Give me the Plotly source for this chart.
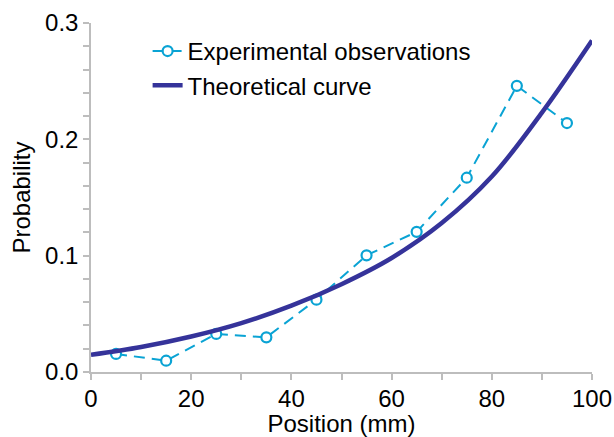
import plotly.graph_objects as go

# Experimental observations
exp_x = [5, 15, 25, 35, 45, 55, 65, 75, 85, 95]
exp_y = [0.0155, 0.0097, 0.0327, 0.0298, 0.0622, 0.1003, 0.1205, 0.167, 0.246, 0.214]

# Theoretical curve (every 10 mm)
theo_x = [0, 10, 20, 30, 40, 50, 60, 70, 80, 90, 100]
theo_y = [0.0148, 0.0215, 0.0305, 0.042, 0.057, 0.0755, 0.098, 0.128, 0.168, 0.223, 0.285]

x_ticks = [0, 20, 40, 60, 80, 100]
y_ticks = [0.0, 0.1, 0.2, 0.3]

EXP_COLOR = "#0AA3D4"
THEO_COLOR = "#35339A"
AXIS_COLOR = "#BDBDBD"
FONT = "Arial, Liberation Sans, Helvetica, sans-serif"
FS = 24

fig = go.Figure()
fig.add_trace(go.Scatter(
    x=exp_x, y=exp_y, mode="lines+markers", name="Experimental observations",
    line=dict(color=EXP_COLOR, width=2, dash="11px,7px"),
    marker=dict(symbol="circle", size=10, color="white", line=dict(width=2.2, color=EXP_COLOR)),
    legendgroup="a", cliponaxis=False,
))
fig.add_trace(go.Scatter(
    x=theo_x, y=theo_y, mode="lines", name="Theoretical curve",
    line=dict(color=THEO_COLOR, width=4.5, shape="spline", smoothing=1.0),
    legendgroup="b",
))

axis_common = dict(showgrid=False, zeroline=False, showline=True, linecolor=AXIS_COLOR, linewidth=1.5,
                   ticks="outside", ticklen=6, tickwidth=1.5, tickcolor=AXIS_COLOR,
                   automargin=False, tickfont=dict(size=FS))

fig.update_layout(
    width=614, height=437,
    margin=dict(l=91, r=22, t=23, b=65),
    paper_bgcolor="white", plot_bgcolor="white",
    font=dict(family=FONT, size=FS, color="black"),
    showlegend=True,
    legend=dict(x=0.113, y=0.983, xanchor="left", yanchor="top",
                bgcolor="rgba(0,0,0,0)", font=dict(size=FS),
                traceorder="grouped", tracegroupgap=0),
    xaxis=dict(range=[0, 100], tickvals=x_ticks, ticktext=[str(v) for v in x_ticks],
               minor=dict(dtick=10, ticks="outside", ticklen=6, tickwidth=1.5, tickcolor=AXIS_COLOR),
               title=dict(text="Position (mm)", standoff=0, font=dict(size=FS)),
               ticklabelstandoff=-2,
               **axis_common),
    yaxis=dict(range=[0, 0.3], tickvals=y_ticks, ticktext=[f"{v:.1f}" for v in y_ticks],
               minor=dict(dtick=0.02, ticks="outside", ticklen=6, tickwidth=1.5, tickcolor=AXIS_COLOR),
               title=dict(text="Probability", standoff=8, font=dict(size=FS)),
               **axis_common),
)

fig.write_html("out.html", config={"displayModeBar": False},
               post_script="document.body.style.margin='0px';")
